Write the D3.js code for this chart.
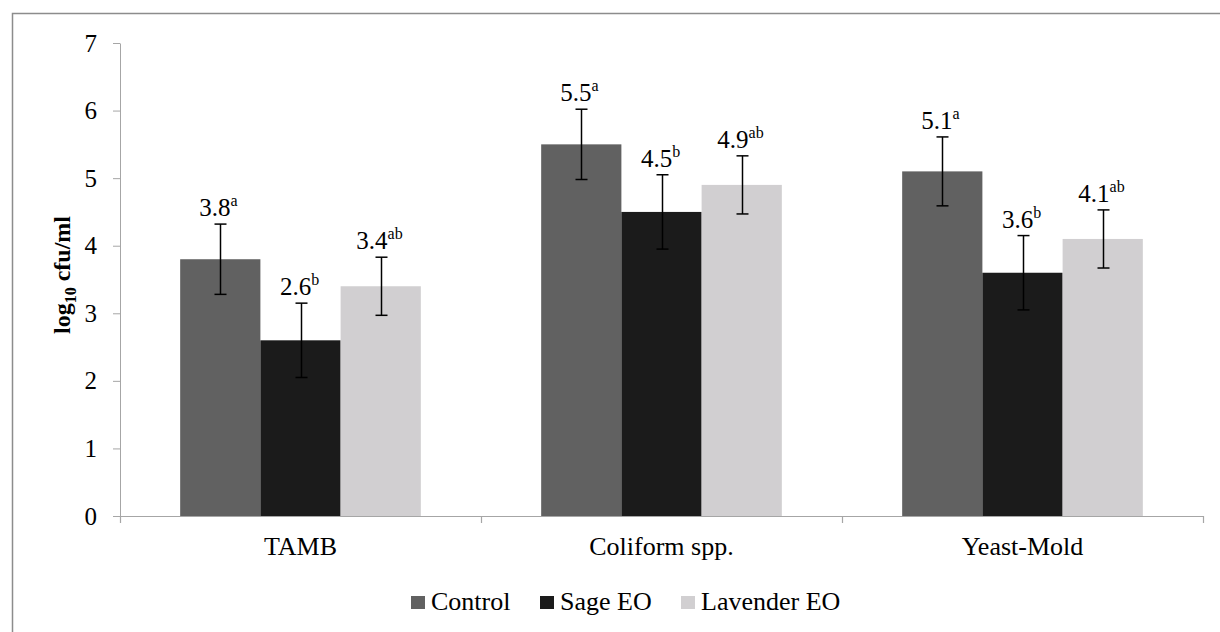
<!DOCTYPE html>
<html>
<head>
<meta charset="utf-8">
<script src="https://cdn.jsdelivr.net/npm/d3@7"></script>
<style>
	body { margin: 0; background: #fff; }
</style>
</head>
<body>
<svg id="chart" width="1220" height="632"></svg>
<script>
const categories = ["TAMB", "Coliform spp.", "Yeast-Mold"];
const seriesNames = ["Control", "Sage EO", "Lavender EO"];
const colors = ["#616161", "#1b1b1b", "#d1cfd1"];

// one array per series, in category order
const controlValues = [3.8, 5.5, 5.1];
const sageValues = [2.6, 4.5, 3.6];
const lavenderValues = [3.4, 4.9, 4.1];

const controlErrors = [0.52, 0.52, 0.51];
const sageErrors = [0.55, 0.55, 0.55];
const lavenderErrors = [0.43, 0.43, 0.43];

const controlLetters = ["a", "a", "a"];
const sageLetters = ["b", "b", "b"];
const lavenderLetters = ["ab", "ab", "ab"];

const yTicks = [0, 1, 2, 3, 4, 5, 6, 7];

const series = [
	{ name: seriesNames[0], values: controlValues, errors: controlErrors, letters: controlLetters },
	{ name: seriesNames[1], values: sageValues, errors: sageErrors, letters: sageLetters },
	{ name: seriesNames[2], values: lavenderValues, errors: lavenderErrors, letters: lavenderLetters },
];

const svg = d3.select("#chart");
const plotLeft = 120, plotRight = 1203, plotTop = 43, plotBottom = 516;
const axisColor = "#a6a6a6";

// font shorthand so family and size travel together
function setFont(sel, size, weight) {
	return sel.style("font", `${weight || "normal"} ${size}px 'Liberation Serif', 'Times New Roman', serif`);
}

// outer chart border (runs off the right and bottom edge like the source)
svg.append("rect")
	.attr("x", 12.5).attr("y", 13.5)
	.attr("width", 1240).attr("height", 660)
	.attr("fill", "none").attr("stroke", "#8c8c8c").attr("stroke-width", 1.5);

const y = d3.scaleLinear().domain([0, 7]).range([plotBottom, plotTop]);
const x0 = d3.scaleBand().domain(categories).range([plotLeft, plotRight]).paddingInner(0).paddingOuter(0);
// Excel-like gap width of 150%: 3 bars + 1.5 bar widths per category
const barW = x0.bandwidth() / 4.5;
const x1 = d3.scaleBand().domain(seriesNames).range([0, barW * 3]);

// bars
categories.forEach((cat, ci) => {
	const gx = x0(cat) + barW * 0.75;
	series.forEach((s, si) => {
		const v = s.values[ci];
		svg.append("rect")
			.attr("x", gx + x1(s.name))
			.attr("y", y(v))
			.attr("width", x1.bandwidth())
			.attr("height", y(0) - y(v))
			.attr("fill", colors[si]);
	});
});

// y axis
const yAxis = svg.append("g")
	.attr("transform", `translate(${plotLeft},0)`)
	.call(d3.axisLeft(y).tickValues(yTicks).tickFormat(d3.format("d")).tickSize(7).tickSizeOuter(0).tickPadding(16));
yAxis.attr("font-family", null).attr("font-size", null);
yAxis.select(".domain").attr("stroke", axisColor);
yAxis.selectAll(".tick line").attr("stroke", axisColor);
setFont(yAxis.selectAll(".tick text"), 25).attr("fill", "#000");

// x axis line and category separators
svg.append("line")
	.attr("x1", plotLeft).attr("x2", plotRight)
	.attr("y1", plotBottom + 0.5).attr("y2", plotBottom + 0.5)
	.attr("stroke", axisColor).attr("stroke-width", 1.2);
d3.range(categories.length + 1).forEach((i) => {
	const tx = Math.round(plotLeft + i * x0.step()) + 0.5;
	svg.append("line")
		.attr("x1", tx).attr("x2", tx)
		.attr("y1", plotBottom).attr("y2", plotBottom + 7)
		.attr("stroke", axisColor).attr("stroke-width", 1.2);
});

setFont(svg.selectAll(".cat-label")
	.data(categories)
	.enter()
	.append("text")
	.attr("class", "cat-label")
	.attr("x", (d) => x0(d) + x0.bandwidth() / 2)
	.attr("y", 555)
	.attr("text-anchor", "middle"), 26)
	.text((d) => d);

// error bars and value labels
categories.forEach((cat, ci) => {
	const gx = x0(cat) + barW * 0.75;
	series.forEach((s, si) => {
		const cx = Math.round(gx + x1(s.name) + x1.bandwidth() / 2) + 0.5;
		const v = s.values[ci];
		const e = s.errors[ci];
		const yHi = y(v + e), yLo = y(v - e);
		const g = svg.append("g").attr("stroke", "#000").attr("stroke-width", 1.5);
		g.append("line").attr("x1", cx).attr("x2", cx).attr("y1", yHi).attr("y2", yLo);
		g.append("line").attr("x1", cx - 6).attr("x2", cx + 6).attr("y1", yHi).attr("y2", yHi);
		g.append("line").attr("x1", cx - 6).attr("x2", cx + 6).attr("y1", yLo).attr("y2", yLo);

		const label = setFont(svg.append("text")
			.attr("x", cx - 2)
			.attr("y", yHi - 8)
			.attr("text-anchor", "middle"), 25);
		label.append("tspan").text(v.toFixed(1));
		label.append("tspan")
			.style("font-size", "16px")
			.attr("dy", -10)
			.text(s.letters[ci]);
	});
});

// y axis title with subscript
const yTitle = setFont(svg.append("text")
	.attr("transform", "translate(70,275) rotate(-90)")
	.attr("text-anchor", "middle"), 24, "bold");
yTitle.append("tspan").text("log");
yTitle.append("tspan").style("font-size", "16px").attr("dy", 6).text("10");
yTitle.append("tspan").attr("dy", -6).text(" cfu/ml");

// legend: text widths for Times-like 26px labels
const legendTextW = [80, 92, 139];
const legend = svg.append("g");
let lx = 0;
seriesNames.forEach((name, i) => {
	legend.append("rect")
		.attr("x", lx).attr("y", 596)
		.attr("width", 14).attr("height", 13)
		.attr("fill", colors[i]);
	setFont(legend.append("text")
		.attr("x", lx + 20)
		.attr("y", 610), 26)
		.text(name);
	lx += 20 + legendTextW[i] + 29;
});
const legendW = lx - 29;
legend.attr("transform", `translate(${Math.round(625.5 - legendW / 2)},0)`);
</script>
</body>
</html>
